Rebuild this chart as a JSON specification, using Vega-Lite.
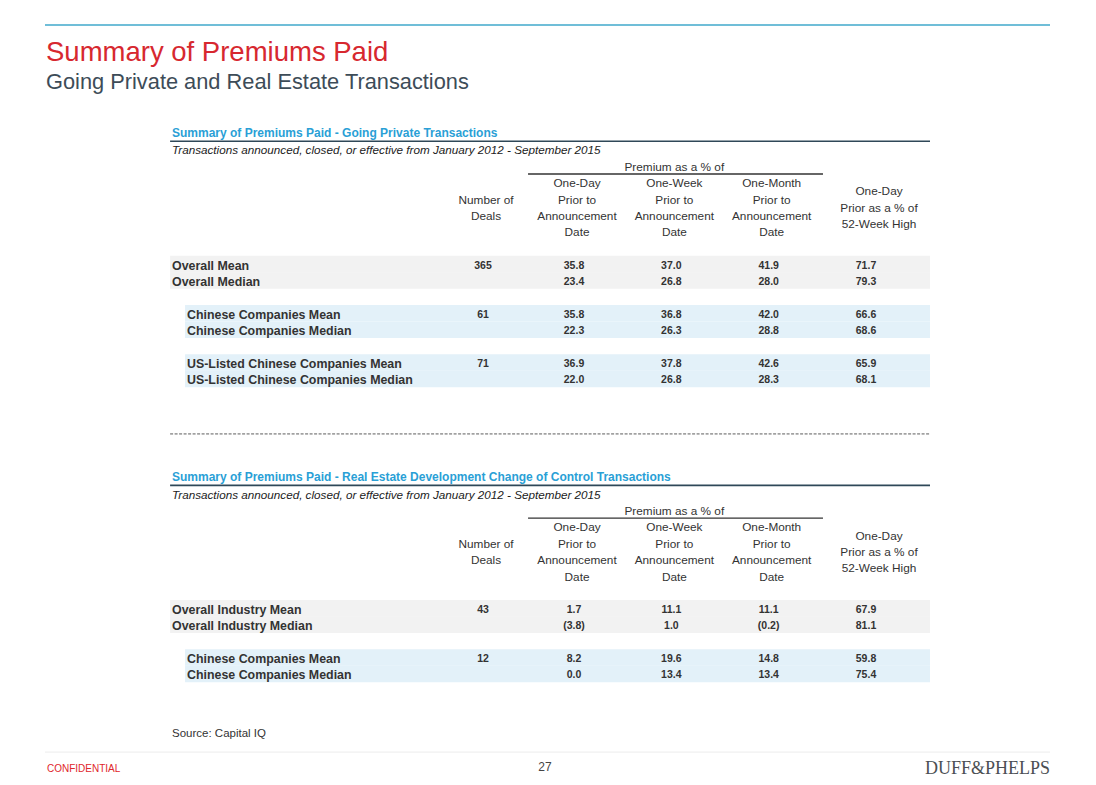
{
  "$schema": "https://vega.github.io/schema/vega-lite/v6.json",
  "width": 1096,
  "height": 785,
  "padding": 0,
  "autosize": {"type": "none"},
  "background": "white",
  "config": {"view": {"stroke": null}, "text": {"font": "Liberation Sans"}},
  "datasets": {
    "rows": [
      {"tbl": 1, "line": 8, "grp": "overall", "label": "Overall Mean", "deals": 365, "d1": 35.8, "w1": 37.0, "m1": 41.9, "h52": 71.7},
      {"tbl": 1, "line": 9, "grp": "overall", "label": "Overall Median", "deals": null, "d1": 23.4, "w1": 26.8, "m1": 28.0, "h52": 79.3},
      {"tbl": 1, "line": 11, "grp": "chinese", "label": "Chinese Companies Mean", "deals": 61, "d1": 35.8, "w1": 36.8, "m1": 42.0, "h52": 66.6},
      {"tbl": 1, "line": 12, "grp": "chinese", "label": "Chinese Companies Median", "deals": null, "d1": 22.3, "w1": 26.3, "m1": 28.8, "h52": 68.6},
      {"tbl": 1, "line": 14, "grp": "chinese", "label": "US-Listed Chinese Companies Mean", "deals": 71, "d1": 36.9, "w1": 37.8, "m1": 42.6, "h52": 65.9},
      {"tbl": 1, "line": 15, "grp": "chinese", "label": "US-Listed Chinese Companies Median", "deals": null, "d1": 22.0, "w1": 26.8, "m1": 28.3, "h52": 68.1},
      {"tbl": 2, "line": 29, "grp": "overall", "label": "Overall Industry Mean", "deals": 43, "d1": 1.7, "w1": 11.1, "m1": 11.1, "h52": 67.9},
      {"tbl": 2, "line": 30, "grp": "overall", "label": "Overall Industry Median", "deals": null, "d1": -3.8, "w1": 1.0, "m1": -0.2, "h52": 81.1},
      {"tbl": 2, "line": 32, "grp": "chinese", "label": "Chinese Companies Mean", "deals": 12, "d1": 8.2, "w1": 19.6, "m1": 14.8, "h52": 59.8},
      {"tbl": 2, "line": 33, "grp": "chinese", "label": "Chinese Companies Median", "deals": null, "d1": 0.0, "w1": 13.4, "m1": 13.4, "h52": 75.4}
    ],
    "headers": [
      {"tbl": 1, "line": 2, "col": 3, "text": "Premium as a % of"},
      {"tbl": 1, "line": 4, "col": 1, "text": "Number of"},
      {"tbl": 1, "line": 5, "col": 1, "text": "Deals"},
      {"tbl": 1, "line": 3, "col": 2, "text": "One-Day"},
      {"tbl": 1, "line": 4, "col": 2, "text": "Prior to"},
      {"tbl": 1, "line": 5, "col": 2, "text": "Announcement"},
      {"tbl": 1, "line": 6, "col": 2, "text": "Date"},
      {"tbl": 1, "line": 3, "col": 3, "text": "One-Week"},
      {"tbl": 1, "line": 4, "col": 3, "text": "Prior to"},
      {"tbl": 1, "line": 5, "col": 3, "text": "Announcement"},
      {"tbl": 1, "line": 6, "col": 3, "text": "Date"},
      {"tbl": 1, "line": 3, "col": 4, "text": "One-Month"},
      {"tbl": 1, "line": 4, "col": 4, "text": "Prior to"},
      {"tbl": 1, "line": 5, "col": 4, "text": "Announcement"},
      {"tbl": 1, "line": 6, "col": 4, "text": "Date"},
      {"tbl": 1, "line": 3.5, "col": 5, "text": "One-Day"},
      {"tbl": 1, "line": 4.5, "col": 5, "text": "Prior as a % of"},
      {"tbl": 1, "line": 5.5, "col": 5, "text": "52-Week High"},
      {"tbl": 2, "line": 23, "col": 3, "text": "Premium as a % of"},
      {"tbl": 2, "line": 25, "col": 1, "text": "Number of"},
      {"tbl": 2, "line": 26, "col": 1, "text": "Deals"},
      {"tbl": 2, "line": 24, "col": 2, "text": "One-Day"},
      {"tbl": 2, "line": 25, "col": 2, "text": "Prior to"},
      {"tbl": 2, "line": 26, "col": 2, "text": "Announcement"},
      {"tbl": 2, "line": 27, "col": 2, "text": "Date"},
      {"tbl": 2, "line": 24, "col": 3, "text": "One-Week"},
      {"tbl": 2, "line": 25, "col": 3, "text": "Prior to"},
      {"tbl": 2, "line": 26, "col": 3, "text": "Announcement"},
      {"tbl": 2, "line": 27, "col": 3, "text": "Date"},
      {"tbl": 2, "line": 24, "col": 4, "text": "One-Month"},
      {"tbl": 2, "line": 25, "col": 4, "text": "Prior to"},
      {"tbl": 2, "line": 26, "col": 4, "text": "Announcement"},
      {"tbl": 2, "line": 27, "col": 4, "text": "Date"},
      {"tbl": 2, "line": 24.5, "col": 5, "text": "One-Day"},
      {"tbl": 2, "line": 25.5, "col": 5, "text": "Prior as a % of"},
      {"tbl": 2, "line": 26.5, "col": 5, "text": "52-Week High"}
    ],
    "sections": [
      {"tbl": 1, "line": 0, "kind": "title", "text": "Summary of Premiums Paid - Going Private Transactions"},
      {"tbl": 1, "line": 1, "kind": "note", "text": "Transactions announced, closed, or effective from January 2012 - September 2015"},
      {"tbl": 2, "line": 21, "kind": "title", "text": "Summary of Premiums Paid - Real Estate Development Change of Control Transactions"},
      {"tbl": 2, "line": 22, "kind": "note", "text": "Transactions announced, closed, or effective from January 2012 - September 2015"}
    ],
    "rules": [
      {"tbl": 1, "line": 0.5, "kind": "section"},
      {"tbl": 1, "line": 2.5, "kind": "premium"},
      {"tbl": 1, "line": 18.36, "kind": "separator"},
      {"tbl": 2, "line": 21.5, "kind": "section"},
      {"tbl": 2, "line": 23.5, "kind": "premium"}
    ],
    "page": [
      {"role": "title", "text": "Summary of Premiums Paid"},
      {"role": "subtitle", "text": "Going Private and Real Estate Transactions"},
      {"role": "source", "text": "Source: Capital IQ"},
      {"role": "confidential", "text": "CONFIDENTIAL"},
      {"role": "pagenum", "text": "27"},
      {"role": "logo", "text": "DUFF&PHELPS"}
    ]
  },
  "layer": [
    {
      "data": {"values": [{"k": 1}]},
      "mark": {"type": "rule", "color": "#41a9cb", "strokeWidth": 1.5},
      "encoding": {
        "x": {"datum": -2, "type": "quantitative", "axis": null, "scale": {"domain": [-2, 0, 1, 2, 5, 6, 8], "range": [45, 172, 483, 574, 866, 930, 1050], "zero": false, "nice": false}},
        "x2": {"datum": 8},
        "y": {"datum": -6.59, "type": "quantitative", "axis": null, "scale": {"domain": [0, 33], "range": [133, 673.9], "zero": false, "nice": false}}
      }
    },
    {
      "data": {"values": [{"k": 1}]},
      "mark": {"type": "rule", "color": "#ececec", "strokeWidth": 1},
      "encoding": {
        "x": {"datum": -2, "type": "quantitative", "axis": null, "scale": {"domain": [-2, 0, 1, 2, 5, 6, 8], "range": [45, 172, 483, 574, 866, 930, 1050], "zero": false, "nice": false}},
        "x2": {"datum": 8},
        "y": {"datum": 37.77, "type": "quantitative", "axis": null, "scale": {"domain": [0, 33], "range": [133, 673.9], "zero": false, "nice": false}}
      }
    },
    {
      "data": {"name": "rows"},
      "transform": [{"filter": "datum.grp == 'overall'"}],
      "mark": {"type": "rule", "color": "#f2f2f2", "strokeWidth": 16.6, "strokeCap": "butt"},
      "encoding": {
        "x": {"datum": -0.03, "type": "quantitative", "axis": null, "scale": {"domain": [-2, 0, 1, 2, 5, 6, 8], "range": [45, 172, 483, 574, 866, 930, 1050], "zero": false, "nice": false}},
        "x2": {"datum": 6},
        "y": {"field": "line", "type": "quantitative", "axis": null, "scale": {"domain": [0, 33], "range": [133, 673.9], "zero": false, "nice": false}}
      }
    },
    {
      "data": {"name": "rows"},
      "transform": [{"filter": "datum.grp == 'chinese'"}],
      "mark": {"type": "rule", "color": "#e3f1f9", "strokeWidth": 16.6, "strokeCap": "butt"},
      "encoding": {
        "x": {"datum": 0.042, "type": "quantitative", "axis": null, "scale": {"domain": [-2, 0, 1, 2, 5, 6, 8], "range": [45, 172, 483, 574, 866, 930, 1050], "zero": false, "nice": false}},
        "x2": {"datum": 6},
        "y": {"field": "line", "type": "quantitative", "axis": null, "scale": {"domain": [0, 33], "range": [133, 673.9], "zero": false, "nice": false}}
      }
    },
    {
      "data": {"name": "rules"},
      "transform": [{"filter": "datum.kind == 'section'"}],
      "mark": {"type": "rule", "color": "#2f4858", "strokeWidth": 1.6},
      "encoding": {
        "x": {"datum": -0.03, "type": "quantitative", "axis": null, "scale": {"domain": [-2, 0, 1, 2, 5, 6, 8], "range": [45, 172, 483, 574, 866, 930, 1050], "zero": false, "nice": false}},
        "x2": {"datum": 6},
        "y": {"field": "line", "type": "quantitative", "axis": null, "scale": {"domain": [0, 33], "range": [133, 673.9], "zero": false, "nice": false}}
      }
    },
    {
      "data": {"name": "rules"},
      "transform": [{"filter": "datum.kind == 'premium'"}],
      "mark": {"type": "rule", "color": "#333333", "strokeWidth": 1.3},
      "encoding": {
        "x": {"datum": 1.495, "type": "quantitative", "axis": null, "scale": {"domain": [-2, 0, 1, 2, 5, 6, 8], "range": [45, 172, 483, 574, 866, 930, 1050], "zero": false, "nice": false}},
        "x2": {"datum": 4.558},
        "y": {"field": "line", "type": "quantitative", "axis": null, "scale": {"domain": [0, 33], "range": [133, 673.9], "zero": false, "nice": false}}
      }
    },
    {
      "data": {"name": "rules"},
      "transform": [{"filter": "datum.kind == 'separator'"}],
      "mark": {"type": "rule", "color": "#333333", "strokeWidth": 0.8, "strokeDash": [3, 1.5]},
      "encoding": {
        "x": {"datum": -0.03, "type": "quantitative", "axis": null, "scale": {"domain": [-2, 0, 1, 2, 5, 6, 8], "range": [45, 172, 483, 574, 866, 930, 1050], "zero": false, "nice": false}},
        "x2": {"datum": 6},
        "y": {"field": "line", "type": "quantitative", "axis": null, "scale": {"domain": [0, 33], "range": [133, 673.9], "zero": false, "nice": false}}
      }
    },
    {
      "data": {"name": "sections"},
      "transform": [{"filter": "datum.kind == 'title'"}],
      "mark": {"type": "text", "align": "left", "baseline": "middle", "fontSize": 12, "fontWeight": "bold", "color": "#2a9fd6", "dy": -0.5},
      "encoding": {
        "x": {"datum": 0, "type": "quantitative", "axis": null, "scale": {"domain": [-2, 0, 1, 2, 5, 6, 8], "range": [45, 172, 483, 574, 866, 930, 1050], "zero": false, "nice": false}},
        "y": {"field": "line", "type": "quantitative", "axis": null, "scale": {"domain": [0, 33], "range": [133, 673.9], "zero": false, "nice": false}},
        "text": {"field": "text"}
      }
    },
    {
      "data": {"name": "sections"},
      "transform": [{"filter": "datum.kind == 'note'"}],
      "mark": {"type": "text", "align": "left", "baseline": "middle", "fontSize": 11.7, "fontStyle": "italic", "color": "#222222", "dy": 1},
      "encoding": {
        "x": {"datum": 0, "type": "quantitative", "axis": null, "scale": {"domain": [-2, 0, 1, 2, 5, 6, 8], "range": [45, 172, 483, 574, 866, 930, 1050], "zero": false, "nice": false}},
        "y": {"field": "line", "type": "quantitative", "axis": null, "scale": {"domain": [0, 33], "range": [133, 673.9], "zero": false, "nice": false}},
        "text": {"field": "text"}
      }
    },
    {
      "data": {"name": "headers"},
      "transform": [{"filter": "datum.col < 5"}],
      "mark": {"type": "text", "align": "center", "baseline": "middle", "fontSize": 11.8, "dx": 3, "dy": 1, "color": "#333333"},
      "encoding": {
        "x": {"field": "col", "type": "quantitative", "axis": null, "scale": {"domain": [-2, 0, 1, 2, 5, 6, 8], "range": [45, 172, 483, 574, 866, 930, 1050], "zero": false, "nice": false}},
        "y": {"field": "line", "type": "quantitative", "axis": null, "scale": {"domain": [0, 33], "range": [133, 673.9], "zero": false, "nice": false}},
        "text": {"field": "text"}
      }
    },
    {
      "data": {"name": "headers"},
      "transform": [{"filter": "datum.col == 5"}],
      "mark": {"type": "text", "align": "center", "baseline": "middle", "fontSize": 11.8, "dx": 13, "dy": 1, "color": "#333333"},
      "encoding": {
        "x": {"field": "col", "type": "quantitative", "axis": null, "scale": {"domain": [-2, 0, 1, 2, 5, 6, 8], "range": [45, 172, 483, 574, 866, 930, 1050], "zero": false, "nice": false}},
        "y": {"field": "line", "type": "quantitative", "axis": null, "scale": {"domain": [0, 33], "range": [133, 673.9], "zero": false, "nice": false}},
        "text": {"field": "text"}
      }
    },
    {
      "data": {"name": "rows"},
      "transform": [{"filter": "datum.grp == 'overall'"}],
      "mark": {"type": "text", "align": "left", "baseline": "middle", "fontSize": 12.4, "fontWeight": "bold", "color": "#333333", "dy": 1.5},
      "encoding": {
        "x": {"datum": 0, "type": "quantitative", "axis": null, "scale": {"domain": [-2, 0, 1, 2, 5, 6, 8], "range": [45, 172, 483, 574, 866, 930, 1050], "zero": false, "nice": false}},
        "y": {"field": "line", "type": "quantitative", "axis": null, "scale": {"domain": [0, 33], "range": [133, 673.9], "zero": false, "nice": false}},
        "text": {"field": "label"}
      }
    },
    {
      "data": {"name": "rows"},
      "transform": [{"filter": "datum.grp == 'chinese'"}],
      "mark": {"type": "text", "align": "left", "baseline": "middle", "fontSize": 12.4, "fontWeight": "bold", "color": "#333333", "dx": 15, "dy": 1.5},
      "encoding": {
        "x": {"datum": 0, "type": "quantitative", "axis": null, "scale": {"domain": [-2, 0, 1, 2, 5, 6, 8], "range": [45, 172, 483, 574, 866, 930, 1050], "zero": false, "nice": false}},
        "y": {"field": "line", "type": "quantitative", "axis": null, "scale": {"domain": [0, 33], "range": [133, 673.9], "zero": false, "nice": false}},
        "text": {"field": "label"}
      }
    },
    {
      "data": {"name": "rows"},
      "transform": [{"filter": {"field": "deals", "valid": true}}],
      "mark": {"type": "text", "align": "center", "baseline": "middle", "fontSize": 10.5, "fontWeight": "bold", "color": "#333333", "dy": 1.5},
      "encoding": {
        "x": {"datum": 1, "type": "quantitative", "axis": null, "scale": {"domain": [-2, 0, 1, 2, 5, 6, 8], "range": [45, 172, 483, 574, 866, 930, 1050], "zero": false, "nice": false}},
        "y": {"field": "line", "type": "quantitative", "axis": null, "scale": {"domain": [0, 33], "range": [133, 673.9], "zero": false, "nice": false}},
        "text": {"field": "deals", "type": "quantitative", "format": "d"}
      }
    },
    {
      "data": {"name": "rows"},
      "mark": {"type": "text", "align": "center", "baseline": "middle", "fontSize": 10.5, "fontWeight": "bold", "color": "#333333", "dy": 1.5},
      "encoding": {
        "x": {"datum": 2, "type": "quantitative", "axis": null, "scale": {"domain": [-2, 0, 1, 2, 5, 6, 8], "range": [45, 172, 483, 574, 866, 930, 1050], "zero": false, "nice": false}},
        "y": {"field": "line", "type": "quantitative", "axis": null, "scale": {"domain": [0, 33], "range": [133, 673.9], "zero": false, "nice": false}},
        "text": {"field": "d1", "type": "quantitative", "format": "(.1f"}
      }
    },
    {
      "data": {"name": "rows"},
      "mark": {"type": "text", "align": "center", "baseline": "middle", "fontSize": 10.5, "fontWeight": "bold", "color": "#333333", "dy": 1.5},
      "encoding": {
        "x": {"datum": 3, "type": "quantitative", "axis": null, "scale": {"domain": [-2, 0, 1, 2, 5, 6, 8], "range": [45, 172, 483, 574, 866, 930, 1050], "zero": false, "nice": false}},
        "y": {"field": "line", "type": "quantitative", "axis": null, "scale": {"domain": [0, 33], "range": [133, 673.9], "zero": false, "nice": false}},
        "text": {"field": "w1", "type": "quantitative", "format": "(.1f"}
      }
    },
    {
      "data": {"name": "rows"},
      "mark": {"type": "text", "align": "center", "baseline": "middle", "fontSize": 10.5, "fontWeight": "bold", "color": "#333333", "dy": 1.5},
      "encoding": {
        "x": {"datum": 4, "type": "quantitative", "axis": null, "scale": {"domain": [-2, 0, 1, 2, 5, 6, 8], "range": [45, 172, 483, 574, 866, 930, 1050], "zero": false, "nice": false}},
        "y": {"field": "line", "type": "quantitative", "axis": null, "scale": {"domain": [0, 33], "range": [133, 673.9], "zero": false, "nice": false}},
        "text": {"field": "m1", "type": "quantitative", "format": "(.1f"}
      }
    },
    {
      "data": {"name": "rows"},
      "mark": {"type": "text", "align": "center", "baseline": "middle", "fontSize": 10.5, "fontWeight": "bold", "color": "#333333", "dy": 1.5},
      "encoding": {
        "x": {"datum": 5, "type": "quantitative", "axis": null, "scale": {"domain": [-2, 0, 1, 2, 5, 6, 8], "range": [45, 172, 483, 574, 866, 930, 1050], "zero": false, "nice": false}},
        "y": {"field": "line", "type": "quantitative", "axis": null, "scale": {"domain": [0, 33], "range": [133, 673.9], "zero": false, "nice": false}},
        "text": {"field": "h52", "type": "quantitative", "format": "(.1f"}
      }
    },
    {
      "data": {"name": "page"},
      "transform": [{"filter": "datum.role == 'title'"}],
      "mark": {"type": "text", "align": "left", "baseline": "alphabetic", "fontSize": 27.5, "color": "#d7282f", "dx": 1},
      "encoding": {
        "x": {"datum": -2, "type": "quantitative", "axis": null, "scale": {"domain": [-2, 0, 1, 2, 5, 6, 8], "range": [45, 172, 483, 574, 866, 930, 1050], "zero": false, "nice": false}},
        "y": {"datum": -4.39, "type": "quantitative", "axis": null, "scale": {"domain": [0, 33], "range": [133, 673.9], "zero": false, "nice": false}},
        "text": {"field": "text"}
      }
    },
    {
      "data": {"name": "page"},
      "transform": [{"filter": "datum.role == 'subtitle'"}],
      "mark": {"type": "text", "align": "left", "baseline": "alphabetic", "fontSize": 21.8, "color": "#3d4c58", "dx": 1},
      "encoding": {
        "x": {"datum": -2, "type": "quantitative", "axis": null, "scale": {"domain": [-2, 0, 1, 2, 5, 6, 8], "range": [45, 172, 483, 574, 866, 930, 1050], "zero": false, "nice": false}},
        "y": {"datum": -2.68, "type": "quantitative", "axis": null, "scale": {"domain": [0, 33], "range": [133, 673.9], "zero": false, "nice": false}},
        "text": {"field": "text"}
      }
    },
    {
      "data": {"name": "page"},
      "transform": [{"filter": "datum.role == 'source'"}],
      "mark": {"type": "text", "align": "left", "baseline": "middle", "fontSize": 11.5, "color": "#333333", "dy": 1.5},
      "encoding": {
        "x": {"datum": 0, "type": "quantitative", "axis": null, "scale": {"domain": [-2, 0, 1, 2, 5, 6, 8], "range": [45, 172, 483, 574, 866, 930, 1050], "zero": false, "nice": false}},
        "y": {"datum": 36.55, "type": "quantitative", "axis": null, "scale": {"domain": [0, 33], "range": [133, 673.9], "zero": false, "nice": false}},
        "text": {"field": "text"}
      }
    },
    {
      "data": {"name": "page"},
      "transform": [{"filter": "datum.role == 'confidential'"}],
      "mark": {"type": "text", "align": "left", "baseline": "middle", "fontSize": 10, "color": "#e0262b", "dx": 2, "dy": 1},
      "encoding": {
        "x": {"datum": -2, "type": "quantitative", "axis": null, "scale": {"domain": [-2, 0, 1, 2, 5, 6, 8], "range": [45, 172, 483, 574, 866, 930, 1050], "zero": false, "nice": false}},
        "y": {"datum": 38.74, "type": "quantitative", "axis": null, "scale": {"domain": [0, 33], "range": [133, 673.9], "zero": false, "nice": false}},
        "text": {"field": "text"}
      }
    },
    {
      "data": {"name": "page"},
      "transform": [{"filter": "datum.role == 'pagenum'"}],
      "mark": {"type": "text", "align": "center", "baseline": "middle", "fontSize": 12, "color": "#444444", "dy": 1},
      "encoding": {
        "x": {"datum": 1.68, "type": "quantitative", "axis": null, "scale": {"domain": [-2, 0, 1, 2, 5, 6, 8], "range": [45, 172, 483, 574, 866, 930, 1050], "zero": false, "nice": false}},
        "y": {"datum": 38.62, "type": "quantitative", "axis": null, "scale": {"domain": [0, 33], "range": [133, 673.9], "zero": false, "nice": false}},
        "text": {"field": "text"}
      }
    },
    {
      "data": {"name": "page"},
      "transform": [{"filter": "datum.role == 'logo'"}],
      "mark": {"type": "text", "align": "right", "baseline": "middle", "fontSize": 18, "font": "Liberation Serif", "color": "#4b4f54", "dy": 1},
      "encoding": {
        "x": {"datum": 8, "type": "quantitative", "axis": null, "scale": {"domain": [-2, 0, 1, 2, 5, 6, 8], "range": [45, 172, 483, 574, 866, 930, 1050], "zero": false, "nice": false}},
        "y": {"datum": 38.74, "type": "quantitative", "axis": null, "scale": {"domain": [0, 33], "range": [133, 673.9], "zero": false, "nice": false}},
        "text": {"field": "text"}
      }
    }
  ]
}
